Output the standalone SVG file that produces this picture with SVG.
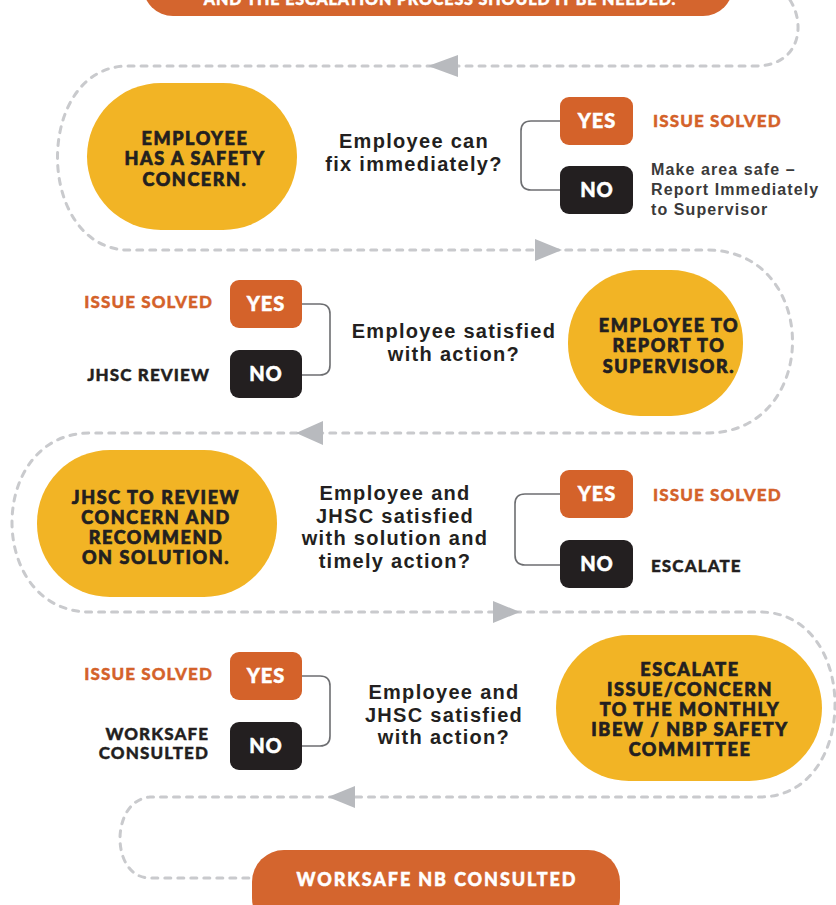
<svg xmlns="http://www.w3.org/2000/svg" width="836" height="905" viewBox="0 0 836 905">
<style>
.bg{fill:#ffffff}
.flow{fill:none;stroke:#c9cacd;stroke-width:3;stroke-dasharray:6 7;stroke-linecap:round}
.arw{fill:#b8babe}
.pill{fill:#f2b425}
.orange{fill:#d4652e}
.yes{fill:#d4622a}
.no{fill:#231f20}
.br{fill:none;stroke:#6d6e71;stroke-width:1.6}
.hd{font-family:Lato,"DejaVu Sans",sans-serif;font-weight:900;font-size:18px;fill:#231f20;stroke:#231f20;stroke-width:0.7px;text-anchor:middle;letter-spacing:1.6px}
.q{font-family:"Liberation Sans",Arial,sans-serif;font-weight:700;font-size:20px;fill:#231f20;text-anchor:middle;letter-spacing:1.3px}
.bt{font-family:Lato,"DejaVu Sans",sans-serif;font-weight:900;font-size:20px;fill:#ffffff;stroke:#ffffff;stroke-width:0.5px;text-anchor:middle;letter-spacing:1px}
.os{font-family:Lato,"DejaVu Sans",sans-serif;font-weight:900;font-size:17px;fill:#d4622a;stroke:#d4622a;stroke-width:0.4px;letter-spacing:1.1px}
.bl{font-family:Lato,"DejaVu Sans",sans-serif;font-weight:900;font-size:17px;fill:#231f20;stroke:#231f20;stroke-width:0.4px;letter-spacing:1.1px}
.gr{font-family:"Liberation Sans",Arial,sans-serif;font-weight:700;font-size:16px;fill:#3a3a3a;letter-spacing:1.1px}
.wt{font-family:Lato,"DejaVu Sans",sans-serif;font-weight:900;font-size:18px;fill:#ffffff;stroke:#ffffff;stroke-width:0.5px;text-anchor:middle;letter-spacing:1.9px}
</style>
<rect class="bg" x="0" y="0" width="836" height="905"/>

<g id="connectors">
  <path class="flow" d="M 790 0 C 806 25 800 66 755 66 L 125 66 C 35 70 35 244 125 250 L 707 250 C 821 250 821 433 707 433 L 90 433 C -14 433 -14 612 90 612 L 760 612 C 860 612 860 797 760 797 L 150 797 C 110 800 110 878 150 878 L 252 878"/>
  <polygon class="arw" points="428,66 458,55 458,77"/>
  <polygon class="arw" points="562,250 535,239 535,261"/>
  <polygon class="arw" points="296,433 323,421 323,445"/>
  <polygon class="arw" points="520,612 493,601 493,623"/>
  <polygon class="arw" points="328,797 355,786 355,808"/>
</g>

<g id="top-banner">
  <rect class="orange" x="143" y="-50" width="590" height="66" rx="30"/>
  <text class="wt" x="440" y="5" style="font-size:16px;letter-spacing:0.9px">AND THE ESCALATION PROCESS SHOULD IT BE NEEDED.</text>
</g>

<g id="node-employee-concern">
  <rect class="pill" x="87" y="83" width="210" height="147" rx="74"/>
  <text class="hd" x="195" y="145">EMPLOYEE</text>
  <text class="hd" x="195" y="165">HAS A SAFETY</text>
  <text class="hd" x="195" y="186">CONCERN.</text>
</g>

<g id="q1">
  <text class="q" x="414" y="148">Employee can</text>
  <text class="q" x="414" y="171">fix immediately?</text>
  <path class="br" d="M 560 121 L 531 121 Q 521 121 521 131 L 521 180 Q 521 190 531 190 L 560 190"/>
  <rect class="yes" x="560" y="97" width="73" height="48" rx="9"/>
  <text class="bt" x="597" y="128">YES</text>
  <rect class="no" x="560" y="166" width="73" height="48" rx="9"/>
  <text class="bt" x="597" y="197">NO</text>
  <text class="os" x="653" y="127">ISSUE SOLVED</text>
  <text class="gr" x="651" y="175">Make area safe –</text>
  <text class="gr" x="651" y="195">Report Immediately</text>
  <text class="gr" x="651" y="215">to Supervisor</text>
</g>

<g id="node-report-supervisor">
  <rect class="pill" x="568" y="270" width="175" height="146" rx="72"/>
  <text class="hd" x="669" y="332">EMPLOYEE TO</text>
  <text class="hd" x="669" y="352">REPORT TO</text>
  <text class="hd" x="669" y="373">SUPERVISOR.</text>
</g>

<g id="q2">
  <text class="q" x="454" y="338">Employee satisfied</text>
  <text class="q" x="454" y="361">with action?</text>
  <path class="br" d="M 302 304 L 320 304 Q 330 304 330 314 L 330 365 Q 330 375 320 375 L 302 375"/>
  <rect class="yes" x="230" y="280" width="72" height="48" rx="9"/>
  <text class="bt" x="266" y="311">YES</text>
  <rect class="no" x="230" y="350" width="72" height="48" rx="9"/>
  <text class="bt" x="266" y="381">NO</text>
  <text class="os" x="213" y="308" text-anchor="end">ISSUE SOLVED</text>
  <text class="bl" x="210" y="381" text-anchor="end">JHSC REVIEW</text>
</g>

<g id="node-jhsc-review">
  <rect class="pill" x="37" y="450" width="240" height="147" rx="73"/>
  <text class="hd" x="156" y="504">JHSC TO REVIEW</text>
  <text class="hd" x="156" y="524">CONCERN AND</text>
  <text class="hd" x="156" y="544">RECOMMEND</text>
  <text class="hd" x="156" y="564">ON SOLUTION.</text>
</g>

<g id="q3">
  <text class="q" x="395" y="500">Employee and</text>
  <text class="q" x="395" y="522.5">JHSC satisfied</text>
  <text class="q" x="395" y="545">with solution and</text>
  <text class="q" x="395" y="567.5">timely action?</text>
  <path class="br" d="M 560 494 L 525 494 Q 515 494 515 504 L 515 555 Q 515 565 525 565 L 560 565"/>
  <rect class="yes" x="560" y="470" width="73" height="48" rx="9"/>
  <text class="bt" x="597" y="501">YES</text>
  <rect class="no" x="560" y="540" width="73" height="48" rx="9"/>
  <text class="bt" x="597" y="571">NO</text>
  <text class="os" x="653" y="501">ISSUE SOLVED</text>
  <text class="bl" x="651" y="572">ESCALATE</text>
</g>

<g id="node-escalate">
  <rect class="pill" x="556" y="635" width="266" height="146" rx="73"/>
  <text class="hd" x="690" y="676">ESCALATE</text>
  <text class="hd" x="690" y="696">ISSUE/CONCERN</text>
  <text class="hd" x="690" y="716">TO THE MONTHLY</text>
  <text class="hd" x="690" y="736">IBEW / NBP SAFETY</text>
  <text class="hd" x="690" y="756">COMMITTEE</text>
</g>

<g id="q4">
  <text class="q" x="444" y="699">Employee and</text>
  <text class="q" x="444" y="721.5">JHSC satisfied</text>
  <text class="q" x="444" y="744">with action?</text>
  <path class="br" d="M 302 676 L 320 676 Q 330 676 330 686 L 330 736 Q 330 746 320 746 L 302 746"/>
  <rect class="yes" x="230" y="652" width="72" height="48" rx="9"/>
  <text class="bt" x="266" y="683">YES</text>
  <rect class="no" x="230" y="722" width="72" height="48" rx="9"/>
  <text class="bt" x="266" y="753">NO</text>
  <text class="os" x="213" y="680" text-anchor="end">ISSUE SOLVED</text>
  <text class="bl" x="209" y="740" text-anchor="end">WORKSAFE</text>
  <text class="bl" x="209" y="759" text-anchor="end">CONSULTED</text>
</g>

<g id="node-worksafe">
  <rect class="orange" x="252" y="850" width="368" height="80" rx="32"/>
  <text class="wt" x="437" y="886">WORKSAFE NB CONSULTED</text>
</g>
</svg>
